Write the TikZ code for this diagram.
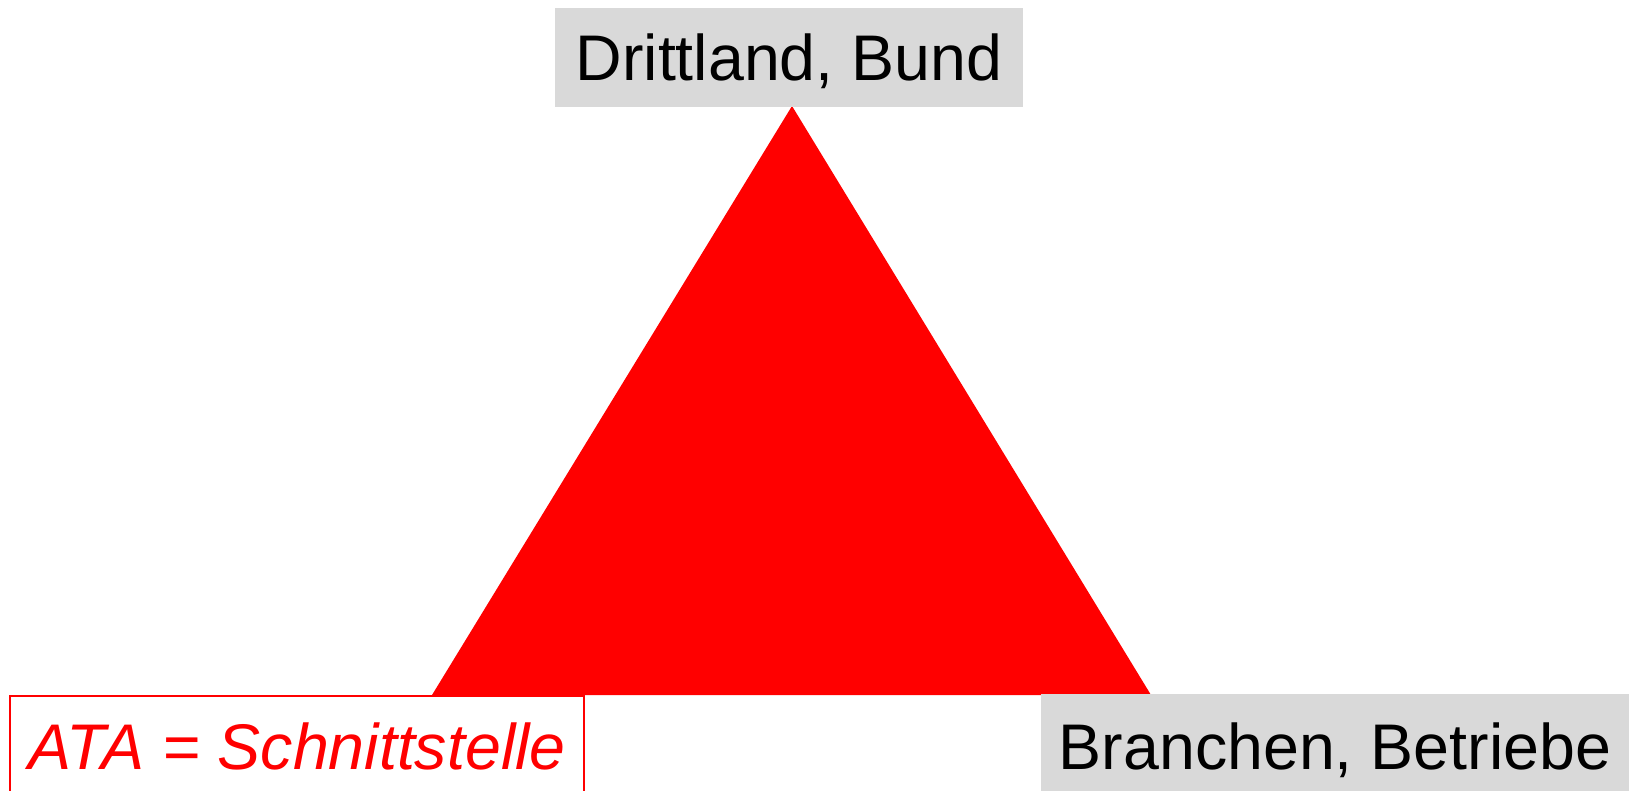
\documentclass[tikz,border=0pt]{standalone}
\usepackage{fontspec}
\setmainfont{Liberation Sans}
\definecolor{boxgray}{HTML}{D9D9D9}
\definecolor{tri}{HTML}{FF0000}
\begin{document}
\begin{tikzpicture}[x=1pt,y=-1pt,
  lbl/.style={font=\fontsize{64.5}{77}\selectfont, text height=46pt, text depth=0pt, inner sep=0pt},
  graybox/.style={lbl, fill=boxgray},
  redbox/.style={lbl, draw=tri, line width=1.5pt, text=tri, font=\fontsize{64.5}{77}\selectfont\itshape}]
\useasboundingbox (0,0) rectangle (1629,790);
\clip (0,0) rectangle (1629,790);
\fill[tri] (792,106) coordinate (apex) -- (1151,695) coordinate (br) -- (432,695) coordinate (bl) -- cycle;
\node[graybox, minimum width=468pt, minimum height=99pt] (top) at (789,57) {Drittland, Bund};
\node[graybox, minimum width=588pt, minimum height=105pt] (right) at (1335,746.5) {Branchen, Betriebe};
\node[redbox, minimum width=574pt, minimum height=101pt] (ata) at (297,746.5) {ATA = Schnittstelle};
\end{tikzpicture}
\end{document}
